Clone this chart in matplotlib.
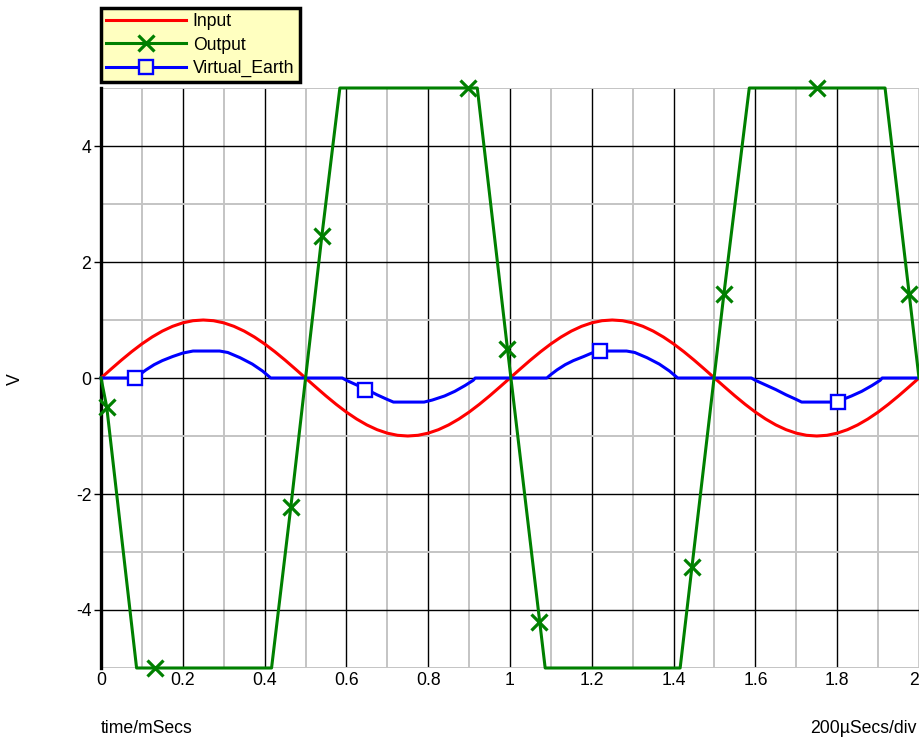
import matplotlib
matplotlib.use("Agg")
import matplotlib.pyplot as plt
from matplotlib.lines import Line2D
from matplotlib.ticker import MultipleLocator

plt.rcParams['font.family'] = ['Liberation Sans', 'DejaVu Sans']

# ---------------- data ----------------
input_t = [i * 0.025 for i in range(81)]
input_v = [0.000, 0.156, 0.309, 0.454, 0.588, 0.707, 0.809, 0.891, 0.951, 0.988,
           1.000, 0.988, 0.951, 0.891, 0.809, 0.707, 0.588, 0.454, 0.309, 0.156,
           0.000, -0.156, -0.309, -0.454, -0.588, -0.707, -0.809, -0.891, -0.951, -0.988,
           -1.000, -0.988, -0.951, -0.891, -0.809, -0.707, -0.588, -0.454, -0.309, -0.156,
           0.000, 0.156, 0.309, 0.454, 0.588, 0.707, 0.809, 0.891, 0.951, 0.988,
           1.000, 0.988, 0.951, 0.891, 0.809, 0.707, 0.588, 0.454, 0.309, 0.156,
           0.000, -0.156, -0.309, -0.454, -0.588, -0.707, -0.809, -0.891, -0.951, -0.988,
           -1.000, -0.988, -0.951, -0.891, -0.809, -0.707, -0.588, -0.454, -0.309, -0.156,
           0.000]

output_t = [0.0, 0.014, 0.087, 0.417, 0.464, 0.540, 0.584, 0.920, 0.993, 1.086,
            1.416, 1.445, 1.523, 1.585, 1.917, 1.976, 2.0]
output_v = [0.0, -0.5, -5.0, -5.0, -2.23, 2.45, 5.0, 5.0, 0.55, -5.0,
            -5.0, -3.25, 1.45, 5.0, 5.0, 1.45, 0.0]

output_mark_t = [0.014, 0.132, 0.464, 0.540, 0.898, 0.993, 1.071, 1.445, 1.523, 1.750, 1.976]
output_mark_v = [-0.5, -5.0, -2.23, 2.45, 5.0, 0.5, -4.2, -3.25, 1.45, 5.0, 1.45]

ve_t = [0.0, 0.085, 0.095, 0.11, 0.13, 0.15, 0.175, 0.20, 0.225, 0.29, 0.31, 0.34, 0.37, 0.395, 0.41, 0.415,
        0.59, 0.60, 0.625, 0.65, 0.675, 0.70, 0.715, 0.79, 0.81, 0.84, 0.865, 0.89, 0.91, 0.915,
        1.09, 1.10, 1.115, 1.135, 1.155, 1.18, 1.20, 1.22, 1.285, 1.305, 1.335, 1.365, 1.39, 1.405, 1.41,
        1.59, 1.60, 1.625, 1.65, 1.675, 1.70, 1.713, 1.79, 1.81, 1.835, 1.86, 1.885, 1.905, 1.91, 2.0]
ve_v = [0.0, 0.0, 0.06, 0.14, 0.23, 0.30, 0.37, 0.43, 0.465, 0.465, 0.44, 0.35, 0.24, 0.12, 0.03, 0.0,
        0.0, -0.04, -0.12, -0.20, -0.29, -0.37, -0.415, -0.415, -0.38, -0.31, -0.23, -0.13, -0.04, 0.0,
        0.0, 0.06, 0.14, 0.23, 0.30, 0.37, 0.43, 0.465, 0.465, 0.44, 0.35, 0.24, 0.12, 0.03, 0.0,
        0.0, -0.04, -0.12, -0.20, -0.29, -0.37, -0.415, -0.415, -0.38, -0.31, -0.23, -0.13, -0.04, 0.0, 0.0]

ve_mark_t = [0.083, 0.645, 1.220, 1.803]
ve_mark_v = [0.0, -0.20, 0.46, -0.41]

x_ticks = [0, 0.2, 0.4, 0.6, 0.8, 1.0, 1.2, 1.4, 1.6, 1.8, 2.0]
x_tick_labels = ['0', '0.2', '0.4', '0.6', '0.8', '1', '1.2', '1.4', '1.6', '1.8', '2']
y_ticks = [-4, -2, 0, 2, 4]
y_tick_labels = ['-4', '-2', '0', '2', '4']
series_names = ['Input', 'Output', 'Virtual_Earth']

# ---------------- style ----------------
RED = '#FF0000'
GREEN = '#008000'
BLUE = '#0000FF'
LEG_BG = '#FFFFC0'
FS = 12.7

W, H = 920, 738
fig = plt.figure(figsize=(W / 100, H / 100), dpi=100)
fig.patch.set_facecolor('white')
ax = fig.add_axes([101 / W, (H - 668) / H, 818 / W, 580 / H])

ax.set_xlim(0, 2)
ax.set_ylim(-5, 5)

ax.xaxis.set_minor_locator(MultipleLocator(0.1))
ax.yaxis.set_minor_locator(MultipleLocator(1))
ax.set_xticks(x_ticks)
ax.set_xticklabels(x_tick_labels, fontsize=FS)
ax.set_yticks(y_ticks)
ax.set_yticklabels(y_tick_labels, fontsize=FS)
# keep the last x label ("2") inside the picture
ax.get_xticklabels()[-1].set_horizontalalignment('right')

ax.grid(which='minor', color='#C4C4C4', lw=1.4, zorder=0)
ax.grid(which='major', color='black', lw=1.0, zorder=0)
ax.set_axisbelow(True)

for s in ['top', 'right', 'bottom']:
    ax.spines[s].set_visible(False)
ax.spines['left'].set_linewidth(2.4)
ax.spines['left'].set_color('black')

ax.tick_params(axis='x', which='both', length=0, pad=3)
ax.tick_params(axis='y', which='major', length=5, width=1.0, color='black', pad=2)
ax.tick_params(axis='y', which='minor', length=0)

lw = 2.2
ax.plot(input_t, input_v, color=RED, lw=lw, zorder=3, clip_on=False, solid_joinstyle='round')
ax.plot(ve_t, ve_v, color=BLUE, lw=lw, zorder=4, clip_on=False, solid_joinstyle='round')
ax.plot(output_t, output_v, color=GREEN, lw=lw, zorder=5, clip_on=False, solid_joinstyle='round')
ax.plot(output_mark_t, output_mark_v, ls='none', marker='x', ms=11, mew=2.3,
        color=GREEN, zorder=6, clip_on=False)
ax.plot(ve_mark_t, ve_mark_v, ls='none', marker='s', ms=9.5, mew=1.7,
        mec=BLUE, mfc='white', zorder=6, clip_on=False)

handles = [
    Line2D([], [], color=RED, lw=lw),
    Line2D([], [], color=GREEN, lw=lw, marker='x', ms=11, mew=2.3),
    Line2D([], [], color=BLUE, lw=lw, marker='s', ms=9.5, mew=1.7, mec=BLUE, mfc=LEG_BG),
]
leg = fig.legend(handles, series_names, loc='upper left',
                 bbox_to_anchor=(101 / W, 1 - 8 / H), frameon=True, fancybox=False,
                 framealpha=1, facecolor=LEG_BG, edgecolor='black',
                 handlelength=4.5, handletextpad=0.4, borderpad=0.3,
                 labelspacing=0.36, borderaxespad=0, numpoints=1,
                 prop={'size': FS, 'family': ['Liberation Sans', 'DejaVu Sans']})
leg.get_frame().set_linewidth(2.5)

fig.text(15 / W, 1 - 379 / H, 'V', rotation=90, ha='center', va='center', fontsize=FS)
fig.text(101 / W, 1 - 733 / H, 'time/mSecs', ha='left', va='baseline', fontsize=FS)
fig.text(917 / W, 1 - 733 / H, '200µSecs/div', ha='right', va='baseline', fontsize=FS)

fig.savefig('out.png', dpi=100)
